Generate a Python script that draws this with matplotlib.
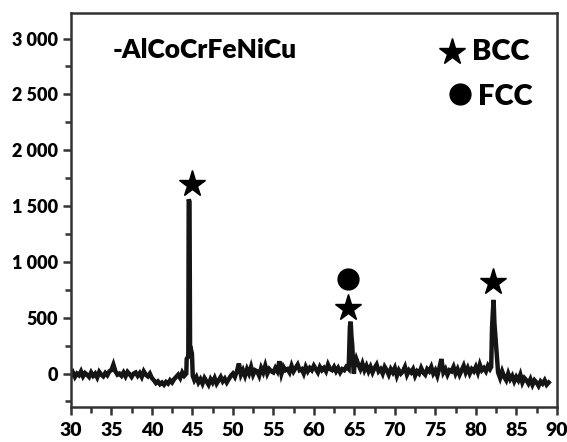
import numpy as np
import matplotlib
matplotlib.use("Agg")
import matplotlib.pyplot as plt
from matplotlib.ticker import MultipleLocator, FuncFormatter

# ---- data ----
# baseline segments on a 0.25 deg grid
seg1_start, seg1 = 30.0, [-20, 10, -30, 0, -15, 20, -25, 5, -10, -30, 10, -20, 0, -35, 15, -10, -25, 5, -15, 20,
                          30, 80, 20, -10,
                          0, -20, 10, -25, 15, -5, -30, 0, 10, -20, 5, -30, 20, -10, -25, 0,
                          -40, -60, -85, -70, -95, -80, -100, -75, -90, -60, -80, -50,
                          -30, -10, -40, 10, -20]
peak1_x = [44.25, 44.3, 44.45, 44.5, 44.55, 44.65, 44.72, 44.85, 44.95, 45.05]
peak1_y = [0, 130, 150, 140, 1560, 1540, 200, 210, 180, -20]
seg2_start, seg2 = 45.25, [-60, -30, -80, -50, -90, -40, -70, -100, -50, -80, -40, -90, -60, -30, -70, -45, -80, -50, -20,
                           0, -30, 20, 90, -10, 30, -20, 40, 0, 60, -10, 30, 20, -20, 50, 10, 70, 0, 40, 20,
                           10, 50, 20, 110, 0, 60, 30, 40, 10, 70, 20, 50, 80, 30, 40, 0, 60, 20, 50, 30, 70, 40,
                           10, 60, 30, 50, 20, 80, 40, 30, 60, 20, 50, 10, 40, 30, 60]
peak2_x = [64.3, 64.45, 64.55, 64.65, 64.75, 64.85, 64.95]
peak2_y = [40, 420, 465, 330, 250, 80, 0]
seg3_start, seg3 = 65.0, [60, 130, 80, 40, 90, 30, 70, 20, 60, 10, 50, 80, 20, 40, 0, 60,
                          30, -10, 40, 10, 50, -20, 30, 0, 20, 60, -10, 30, 10, 40, -20, 20,
                          0, 50, 10, -10, 40, 20, 60, 0, 30, -20, 50, 130, 10, 40, -10, 30,
                          20, 60, 0, 40, -10, 30, 70, 10, 50, 0, 40, 20, 60, 10, 80, 30, 50, 20, 70, 40]
peak3_x = [81.9, 82.0, 82.1, 82.2, 82.3, 82.45, 82.6, 82.7]
peak3_y = [60, 400, 550, 660, 450, 300, 150, 40]
seg4_start, seg4 = 82.75, [10, -40, 20, -30, -60, 0, -50, -20, -70, -30, -60, -10, -80, -40, -60, -90,
                           -50, -100, -60, -80, -110, -70, -90, -60, -100, -80]

x_ticks = [30, 35, 40, 45, 50, 55, 60, 65, 70, 75, 80, 85, 90]
y_ticks = [0, 500, 1000, 1500, 2000, 2500, 3000]
title_text = "-AlCoCrFeNiCu"
bcc_marks_x = [44.9, 64.2, 82.1]
bcc_marks_y = [1700, 590, 820]
fcc_marks_x = [64.2]
fcc_marks_y = [850]

def grid(start, vals):
    return [start + 0.25 * i for i in range(len(vals))]

xs = grid(seg1_start, seg1) + peak1_x + grid(seg2_start, seg2) + peak2_x + grid(seg3_start, seg3) + peak3_x + grid(seg4_start, seg4)
ys = seg1 + peak1_y + seg2 + peak2_y + seg3 + peak3_y + seg4
order = np.argsort(xs, kind="stable")
xs = np.array(xs)[order]
ys = np.array(ys)[order]

plt.rcParams['font.family'] = ['Lato', 'DejaVu Sans']
W = 'heavy'

fig = plt.figure(figsize=(5.67, 4.42), dpi=100)
ax = fig.add_axes([0.125, 0.079, 0.857, 0.892])

ax.plot(xs, ys, color='#151515', lw=3.2, solid_joinstyle='miter')

ax.set_xlim(30, 90)
ax.set_ylim(-300, 3230)
ax.set_xticks(x_ticks)
ax.set_yticks(y_ticks)
ax.xaxis.set_minor_locator(MultipleLocator(2.5))
ax.yaxis.set_minor_locator(MultipleLocator(250))
ax.yaxis.set_major_formatter(FuncFormatter(lambda v, p: f"{int(v):,}".replace(",", " ")))

for s in ax.spines.values():
    s.set_linewidth(1.8)
    s.set_color('#333333')
ax.tick_params(which='both', direction='out', width=1.8, color='#333333')
ax.tick_params(which='major', length=6, pad=3)
ax.tick_params(which='minor', length=4)
ax.tick_params(axis='y', labelsize=13)
ax.tick_params(axis='x', labelsize=14, pad=5)
for lab in ax.get_xticklabels() + ax.get_yticklabels():
    lab.set_fontweight(W)

# peak markers
ax.plot(bcc_marks_x, bcc_marks_y, linestyle='none', marker='*', ms=20, color='black')
ax.plot(fcc_marks_x, fcc_marks_y, linestyle='none', marker='o', ms=15, color='black')

# title and legend
ax.text(0.086, 0.906, title_text, transform=ax.transAxes, fontsize=19, fontweight=W, va='center', ha='left')
ax.plot([0.784], [0.901], transform=ax.transAxes, marker='*', ms=20, color='black', linestyle='none')
ax.text(0.825, 0.901, "BCC", transform=ax.transAxes, fontsize=21, fontweight=W, va='center', ha='left')
ax.plot([0.800], [0.794], transform=ax.transAxes, marker='o', ms=15, color='black', linestyle='none')
ax.text(0.837, 0.787, "FCC", transform=ax.transAxes, fontsize=21, fontweight=W, va='center', ha='left')

fig.savefig("out.png", dpi=100)
